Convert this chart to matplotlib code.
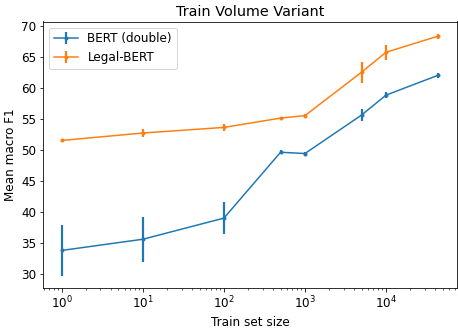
import matplotlib
matplotlib.use("Agg")
import matplotlib.pyplot as plt

train_sizes = [1, 10, 100, 500, 1000, 5000, 10000, 44000]

bert_mean = [33.8, 35.6, 39.0, 49.6, 49.4, 55.6, 58.8, 62.0]
bert_std = [4.1, 3.6, 2.6, 0.3, 0.3, 0.9, 0.5, 0.4]

legal_mean = [51.5, 52.7, 53.6, 55.1, 55.5, 62.5, 65.7, 68.3]
legal_std = [0.3, 0.6, 0.6, 0.2, 0.2, 1.7, 1.2, 0.4]

plt.rcParams["font.size"] = 12

fig = plt.figure(figsize=(458 / 72, 328 / 72), dpi=72)
ax = fig.add_subplot(111)
fig.subplots_adjust(left=43 / 458, right=457 / 458, top=1 - 21.5 / 328, bottom=1 - 288 / 328)

ax.errorbar(train_sizes, bert_mean, yerr=bert_std, fmt=".-", markersize=6, lw=1.5,
            elinewidth=2.2, label="BERT (double)")
ax.errorbar(train_sizes, legal_mean, yerr=legal_std, fmt=".-", markersize=6, lw=1.5,
            elinewidth=2.2, label="Legal-BERT")

ax.set_xscale("log")
ax.set_title("Train Volume Variant")
ax.set_xlabel("Train set size")
ax.set_ylabel("Mean macro F1")
ax.legend(loc="upper left")

fig.savefig("out.png", dpi=72)
